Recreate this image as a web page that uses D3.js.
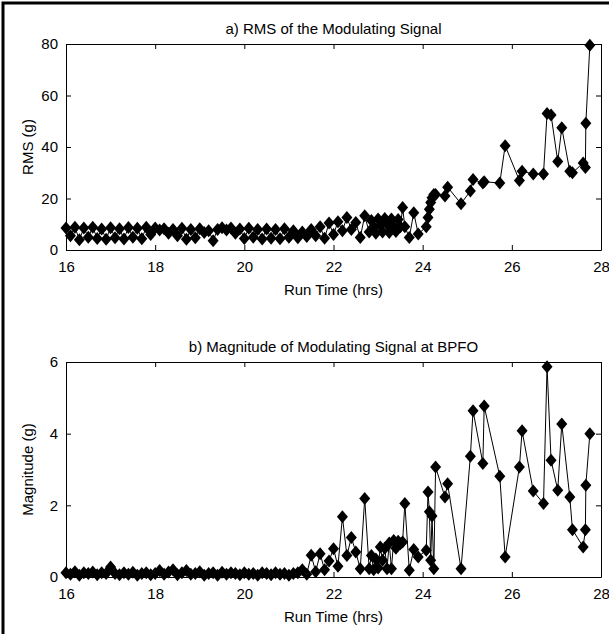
<!DOCTYPE html>
<html>
    <head>
        <meta charset="utf-8" />
        <title>RMS and BPFO magnitude</title>
        <style type="text/css">
            body {
                margin: 0;
                background-color: #fff;
            }
            svg {
                display: block;
                font-family: "Liberation Sans", Arial, sans-serif;
            }
            .axis path,
            .axis line {
                stroke: #000;
                stroke-width: 1px;
            }
            .axis text {
                fill: #000;
                font-size: 15px;
                font-family: "Liberation Sans", Arial, sans-serif;
            }
            .lbl {
                font-size: 15px;
                fill: #000;
            }
            .trace {
                fill: none;
                stroke: #000;
                stroke-width: 1px;
            }
        </style>
        <script src="https://d3js.org/d3.v7.min.js"></script>
    </head>
    <body>
        <div id="chart"></div>
        <script type="text/javascript">
            // run time (hrs), shared by both panels
            var runTime = [
                16.0, 16.1, 16.2, 16.3, 16.4, 16.5, 16.6, 16.7, 16.8, 16.9,
                17.0, 17.1, 17.2, 17.3, 17.4, 17.5, 17.6, 17.7, 17.8, 17.9,
                18.0, 18.1, 18.2, 18.3, 18.4, 18.5, 18.6, 18.7, 18.8, 18.9,
                19.0, 19.1, 19.2, 19.3, 19.4, 19.5, 19.6, 19.7, 19.8, 19.9,
                20.0, 20.1, 20.2, 20.3, 20.4, 20.5, 20.6, 20.7, 20.8, 20.9,
                21.0, 21.1, 21.2, 21.3, 21.4, 21.5, 21.6, 21.7, 21.8, 21.9,
                22.0, 22.1, 22.2, 22.3, 22.4, 22.5, 22.6, 22.7,
                22.8, 22.85, 22.9, 22.95, 23.0, 23.05, 23.1, 23.15, 23.2,
                23.25, 23.3, 23.35, 23.4, 23.45, 23.5, 23.55, 23.6,
                23.7, 23.8, 23.9,
                24.08, 24.12, 24.15, 24.18, 24.21, 24.25, 24.29, 24.5, 24.56,
                24.86, 25.07, 25.13, 25.35, 25.38, 25.73, 25.85, 26.17, 26.23,
                26.48, 26.71, 26.79, 26.88, 27.03, 27.12, 27.3, 27.36, 27.6,
                27.65, 27.66, 27.75
            ];

            // a) RMS of the modulating signal (g)
            var rmsValues = [
                8.5, 5.5, 8.8, 4.0, 8.5, 5.0, 8.8, 4.5, 8.2, 4.2,
                8.6, 4.8, 8.3, 4.3, 8.7, 5.0, 8.4, 4.4, 8.8, 6.0,
                8.5, 7.8, 8.3, 6.5, 8.0, 5.5, 8.4, 4.2, 8.0, 4.8,
                8.3, 6.8, 7.5, 3.6, 8.0, 8.6, 7.8, 8.5, 6.5, 8.2,
                4.5, 8.4, 5.0, 8.0, 4.3, 8.2, 4.6, 8.0, 4.4, 8.3,
                5.0, 7.5, 4.8, 7.0, 5.2, 8.0, 5.5, 9.0, 4.6, 10.5,
                6.0, 11.0, 7.5, 12.6, 8.0, 10.7, 4.9, 13.3,
                7.0, 11.5, 9.0, 6.5, 12.0, 9.5, 7.0, 12.2, 10.0,
                6.8, 12.0, 9.0, 7.2, 11.8, 9.0, 16.5, 9.0,
                4.9, 14.5, 6.2,
                9.0, 12.6, 15.8, 18.4, 20.3, 21.6, 21.6, 21.0, 24.4,
                18.0, 22.9, 27.4, 26.0, 26.5, 26.0, 40.5, 27.0, 30.6,
                29.5, 29.5, 53.0, 52.4, 34.4, 47.5, 30.6, 30.0, 33.8,
                32.0, 49.2, 79.5
            ];

            // b) magnitude of modulating signal at BPFO (g)
            var bpfoValues = [
                0.12, 0.08, 0.15, 0.05, 0.12, 0.1, 0.14, 0.06, 0.12, 0.1,
                0.28, 0.1, 0.06, 0.12, 0.08, 0.13, 0.05, 0.1, 0.12, 0.06,
                0.1, 0.18, 0.08, 0.14, 0.2, 0.06, 0.12, 0.18, 0.08, 0.1,
                0.15, 0.05, 0.1, 0.12, 0.05, 0.13, 0.08, 0.12, 0.1, 0.06,
                0.12, 0.08, 0.1, 0.05, 0.12, 0.1, 0.06, 0.12, 0.08, 0.1,
                0.05, 0.1, 0.12, 0.2, 0.08, 0.61, 0.15, 0.65, 0.2, 0.45,
                0.79, 0.3, 1.68, 0.6, 1.1, 0.7, 0.23, 2.19,
                0.23, 0.6, 0.2, 0.5, 0.25, 0.84, 0.47, 0.8, 0.23,
                0.95, 0.23, 1.02, 0.8, 1.0, 0.93, 0.98, 2.05,
                0.19, 0.77, 0.56,
                0.75, 2.37, 1.82, 0.47, 1.7, 0.23, 3.07, 2.23, 2.6,
                0.23, 3.37, 4.64, 3.17, 4.77, 2.81, 0.56, 3.07, 4.08,
                2.4, 2.05, 5.87, 3.26, 2.42, 4.27, 2.23, 1.32, 0.84,
                1.32, 2.56, 4.0
            ];

            var xTicks = [16, 18, 20, 22, 24, 26, 28];
            var rmsTicks = [0, 20, 40, 60, 80];
            var bpfoTicks = [0, 2, 4, 6];

            var width = 609,
                height = 634,
                left = 66,
                right = 601,
                tickLen = 5;

            var svg = d3
                .select("#chart")
                .append("svg")
                .attr("width", width)
                .attr("height", height);

            // figure frame (only left and top edges fall inside the view)
            svg.append("rect")
                .attr("x", 3)
                .attr("y", 3)
                .attr("width", 800)
                .attr("height", 800)
                .attr("fill", "none")
                .attr("stroke", "#000")
                .attr("stroke-width", 3);

            var xScale = d3.scaleLinear().domain([16, 28]).range([left, right]);

            var diamond = "M0,-6.5L5.5,0L0,6.5L-5.5,0Z";

            function panel(opts) {
                var yScale = d3
                    .scaleLinear()
                    .domain(opts.yDomain)
                    .range([opts.bottom, opts.top]);

                var g = svg.append("g");

                var data = runTime.map(function (t, i) {
                    return { t: t, v: opts.values[i] };
                });

                var line = d3
                    .line()
                    .x(function (d) {
                        return xScale(d.t);
                    })
                    .y(function (d) {
                        return yScale(d.v);
                    });

                g.append("path").datum(data).attr("class", "trace").attr("d", line);

                g.selectAll(".dot")
                    .data(data)
                    .enter()
                    .append("path")
                    .attr("class", "dot")
                    .attr("d", diamond)
                    .attr("fill", "#000")
                    .attr("transform", function (d) {
                        return "translate(" + xScale(d.t) + "," + yScale(d.v) + ")";
                    });

                // box axes, ticks pointing inward
                var xAxisG = g.append("g")
                    .attr("class", "axis")
                    .attr("transform", "translate(0," + opts.bottom + ")")
                    .call(
                        d3.axisBottom(xScale)
                            .tickValues(xTicks)
                            .tickSizeInner(-tickLen)
                            .tickSizeOuter(0)
                            .tickPadding(17)
                    );
                xAxisG.selectAll("text").attr("dy", "0.32em");

                g.append("g")
                    .attr("class", "axis")
                    .attr("transform", "translate(0," + opts.top + ")")
                    .call(
                        d3.axisTop(xScale)
                            .tickValues(xTicks)
                            .tickSizeInner(-tickLen)
                            .tickSizeOuter(0)
                            .tickFormat("")
                    );

                g.append("g")
                    .attr("class", "axis")
                    .attr("transform", "translate(" + left + ",0)")
                    .call(
                        d3.axisLeft(yScale)
                            .tickValues(opts.yTicks)
                            .tickSizeInner(-tickLen)
                            .tickSizeOuter(0)
                            .tickPadding(8)
                            .tickFormat(d3.format("d"))
                    );

                g.append("g")
                    .attr("class", "axis")
                    .attr("transform", "translate(" + right + ",0)")
                    .call(
                        d3.axisRight(yScale)
                            .tickValues(opts.yTicks)
                            .tickSizeInner(-tickLen)
                            .tickSizeOuter(0)
                            .tickFormat("")
                    );

                g.append("text")
                    .attr("class", "lbl")
                    .attr("x", (left + right) / 2)
                    .attr("y", opts.top - 10)
                    .attr("text-anchor", "middle")
                    .text(opts.title);

                g.append("text")
                    .attr("class", "lbl")
                    .attr("x", (left + right) / 2)
                    .attr("y", opts.bottom + 45)
                    .attr("text-anchor", "middle")
                    .text("Run Time (hrs)");

                g.append("text")
                    .attr("class", "lbl")
                    .attr("transform", "translate(33," + (opts.top + opts.bottom) / 2 + ") rotate(-90)")
                    .attr("text-anchor", "middle")
                    .text(opts.yLabel);
            }

            panel({
                top: 44,
                bottom: 250,
                yDomain: [0, 80],
                yTicks: rmsTicks,
                values: rmsValues,
                title: "a) RMS of the Modulating Signal",
                yLabel: "RMS (g)"
            });

            panel({
                top: 362,
                bottom: 577,
                yDomain: [0, 6],
                yTicks: bpfoTicks,
                values: bpfoValues,
                title: "b) Magnitude of Modulating Signal at BPFO",
                yLabel: "Magnitude (g)"
            });
        </script>
    </body>
</html>
